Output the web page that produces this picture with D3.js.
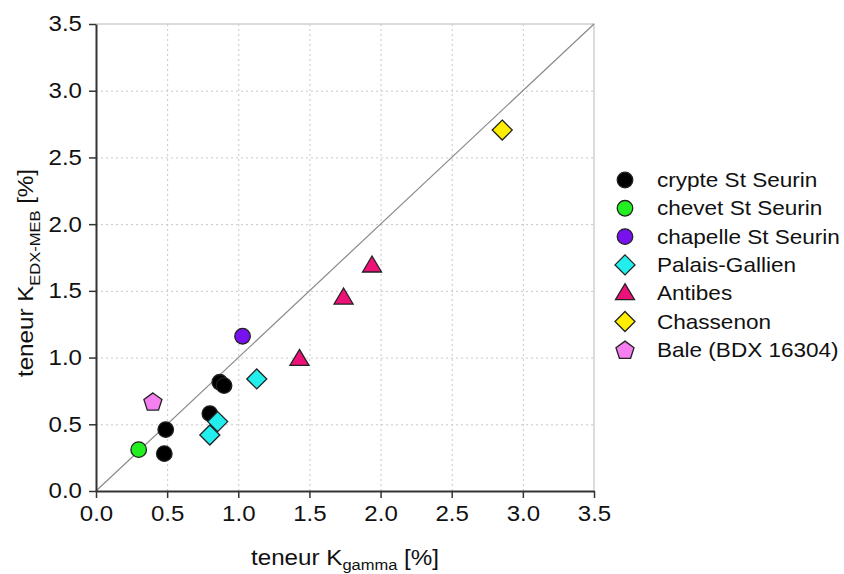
<!DOCTYPE html>
<html>
  <head>
    <meta charset="utf-8">
    <script src="https://d3js.org/d3.v7.min.js"></script>
    <style>
      body { margin: 0; background: white; }
      text { font-family: "Liberation Sans", Arial, sans-serif; fill: #111; }
      .grid line { stroke: #c8c8c8; stroke-dasharray: 2,3; }
      .grid path { display: none; }
    </style>
  </head>
  <body>
    <script>
      // data
      var seriesNames = ["crypte St Seurin", "chevet St Seurin", "chapelle St Seurin",
                         "Palais-Gallien", "Antibes", "Chassenon", "Bale (BDX 16304)"];
      var seriesColors = ["#000000", "#22ee22", "#7711ee", "#22eeee", "#ee1177", "#ffee00", "#f57ef0"];
      var seriesShapes = ["circle", "circle", "circle", "diamond", "triangle", "diamond", "pentagon"];

      var crypteX = [0.49, 0.48, 0.87, 0.90, 0.80];
      var crypteY = [0.46, 0.28, 0.815, 0.79, 0.58];
      var chevetX = [0.30];
      var chevetY = [0.31];
      var chapelleX = [1.03];
      var chapelleY = [1.16];
      var palaisX = [0.855, 0.80, 1.13];
      var palaisY = [0.52, 0.42, 0.84];
      var antibesX = [1.43, 1.74, 1.94];
      var antibesY = [0.99, 1.45, 1.69];
      var chassenonX = [2.855];
      var chassenonY = [2.705];
      var baleX = [0.40];
      var baleY = [0.67];

      var ticks = [0.0, 0.5, 1.0, 1.5, 2.0, 2.5, 3.0, 3.5];

      var allX = [crypteX, chevetX, chapelleX, palaisX, antibesX, chassenonX, baleX];
      var allY = [crypteY, chevetY, chapelleY, palaisY, antibesY, chassenonY, baleY];

      // the source text is a little wider than Arial, so stretch it sideways
      var stretch = 1.12;

      var margin = {top: 24, left: 96};
      var width = 498, height = 467;

      var x = d3.scaleLinear().domain([0, 3.5]).range([0, width]);
      var y = d3.scaleLinear().domain([0, 3.5]).range([height, 0]);

      var svg = d3.select("body").append("svg")
          .attr("width", 844)
          .attr("height", 574);

      var g = svg.append("g")
          .attr("transform", "translate(" + margin.left + "," + margin.top + ")");

      // grid
      g.append("g")
          .attr("class", "grid")
          .attr("transform", "translate(0," + height + ")")
          .call(d3.axisBottom(x).tickValues(ticks.slice(1, -1)).tickSize(-height).tickFormat(""));
      g.append("g")
          .attr("class", "grid")
          .call(d3.axisLeft(y).tickValues(ticks.slice(1, -1)).tickSize(-width).tickFormat(""));

      // light frame top/right
      g.append("path")
          .attr("d", "M0,0H" + width + "V" + height)
          .attr("fill", "none")
          .attr("stroke", "#cfcfcf")
          .attr("stroke-width", 1.5);

      // 1:1 line
      g.append("line")
          .attr("x1", x(0)).attr("y1", y(0))
          .attr("x2", x(3.5)).attr("y2", y(3.5))
          .attr("stroke", "#8a8a8a")
          .attr("stroke-width", 1.2);

      // axes
      var xAxis = g.append("g")
          .attr("transform", "translate(0," + height + ")")
          .call(d3.axisBottom(x).tickValues(ticks).tickSize(7).tickSizeOuter(0).tickFormat(d3.format(".1f")));
      var yAxis = g.append("g")
          .call(d3.axisLeft(y).tickValues(ticks).tickSize(7).tickSizeOuter(0).tickFormat(d3.format(".1f")));

      [xAxis, yAxis].forEach(function(a) {
        a.select(".domain").attr("stroke", "#333").attr("stroke-width", 2);
        a.selectAll(".tick line").attr("stroke", "#333").attr("stroke-width", 1.5);
        a.selectAll(".tick text").style("font-size", "21.5px").attr("fill", "#111")
            .attr("transform", "scale(" + stretch + ",1)");
      });
      xAxis.selectAll(".tick text").attr("dy", "0.95em");
      yAxis.selectAll(".tick text").attr("x", -14 / stretch);

      function markerPath(shape) {
        if (shape === "circle") return d3.symbol(d3.symbolCircle, 190)();
        if (shape === "triangle") return "M0,-9.5L9.5,6.5L-9.5,6.5Z";
        if (shape === "diamond") return "M0,-10L10,0L0,10L-10,0Z";
        // pentagon
        var pts = d3.range(5).map(function(i) {
          var a = -Math.PI / 2 + i * 2 * Math.PI / 5;
          return [9.5 * Math.cos(a), 9.5 * Math.sin(a) + 0.8];
        });
        return "M" + pts.join("L") + "Z";
      }

      // points
      seriesNames.forEach(function(name, i) {
        var pts = allX[i].map(function(v, j) { return [v, allY[i][j]]; });
        g.append("g").selectAll("path")
            .data(pts)
            .enter().append("path")
            .attr("transform", function(d) { return "translate(" + x(d[0]) + "," + y(d[1]) + ")"; })
            .attr("d", markerPath(seriesShapes[i]))
            .attr("fill", seriesColors[i])
            .attr("stroke", "#222")
            .attr("stroke-width", 1.3);
      });

      // legend
      var legend = svg.append("g").attr("transform", "translate(625,180)");
      seriesNames.forEach(function(name, i) {
        var row = legend.append("g").attr("transform", "translate(0," + (i * 28.3) + ")");
        row.append("path")
            .attr("d", markerPath(seriesShapes[i]))
            .attr("fill", seriesColors[i])
            .attr("stroke", "#222")
            .attr("stroke-width", 1.3);
        row.append("text")
            .attr("transform", "translate(32,0) scale(1.1,1)")
            .attr("dy", "0.35em")
            .style("font-size", "20.5px")
            .text(name);
      });

      // axis titles
      var xt = svg.append("text")
          .attr("transform", "translate(" + (margin.left + width / 2) + ",565) scale(1.1,1)")
          .attr("text-anchor", "middle")
          .style("font-size", "22px");
      xt.append("tspan").text("teneur K");
      xt.append("tspan").attr("dy", 5).style("font-size", "15px").text("gamma");
      xt.append("tspan").attr("dy", -5).text(" [%]");

      var yt = svg.append("text")
          .attr("transform", "translate(33,273) rotate(-90) scale(1.1,1)")
          .attr("text-anchor", "middle")
          .style("font-size", "22px");
      yt.append("tspan").text("teneur K");
      yt.append("tspan").attr("dy", 7).style("font-size", "15px").text("EDX-MEB");
      yt.append("tspan").attr("dy", -7).text(" [%]");
    </script>
  </body>
</html>
